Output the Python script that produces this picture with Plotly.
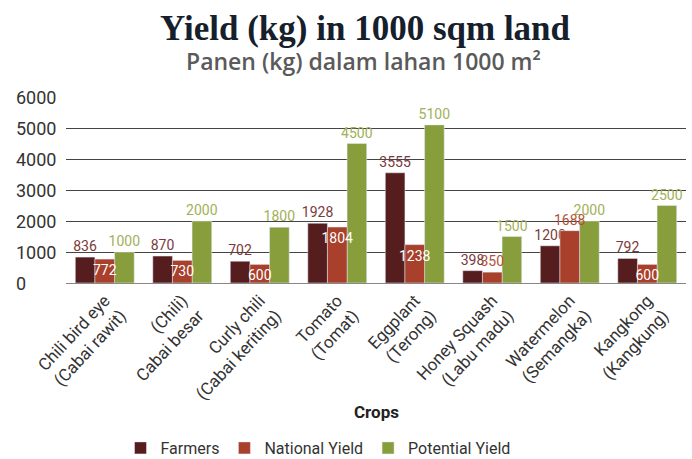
import plotly.graph_objects as go

# datos
crops = [
    "Chili bird eye<br>(Cabai rawit)",
    "(Chili)<br>Cabai besar",
    "Curly chili<br>(Cabai keriting)",
    "Tomato<br>(Tomat)",
    "Eggplant<br>(Terong)",
    "Honey Squash<br>(Labu madu)",
    "Watermelon<br>(Semangka)",
    "Kangkong<br>(Kangkung)",
]
farmers = [836, 870, 702, 1928, 3555, 398, 1200, 792]
national = [772, 730, 600, 1804, 1238, 350, 1688, 600]
potential = [1000, 2000, 1800, 4500, 5100, 1500, 2000, 2500]
national_pos = ["inside", "inside", "inside", "inside", "inside", "outside", "outside", "inside"]
y_ticks = [0, 1000, 2000, 3000, 4000, 5000, 6000]

# ancho de barra y desplazamiento dentro del grupo (unidades de categoria)
BAR_W = 0.76 / 3

# pixeles -> coordenadas paper del area del grafico (top 97, bottom 283)
def py(pix):
    return (283 - pix) / 186

def px(pix):
    return (pix - 66) / 620

fig = go.Figure()

fig.add_trace(go.Bar(
    x=crops, y=farmers, name="Farmers", legendrank=1,
    width=BAR_W, offset=-1.5 * BAR_W,
    marker_color="#561d1e",
    text=farmers, textposition="outside", textangle=0,
    outsidetextfont=dict(color="#7a3a3b", size=14, family="Roboto"),
    constraintext="none", cliponaxis=False,
))
fig.add_trace(go.Bar(
    x=crops, y=potential, name="Potential Yield", legendrank=3,
    width=BAR_W, offset=0.5 * BAR_W,
    marker_color="#889e3c",
    text=potential, textposition="outside", textangle=0,
    outsidetextfont=dict(color="#9fb15a", size=14, family="Roboto"),
    constraintext="none", cliponaxis=False,
))
# la serie nacional se dibuja al final para que sus etiquetas queden encima
fig.add_trace(go.Bar(
    x=crops, y=national, name="National Yield", legendrank=2,
    width=BAR_W, offset=-0.5 * BAR_W,
    marker_color="#a8402b",
    text=national, textposition=national_pos, textangle=0,
    insidetextanchor="end",
    insidetextfont=dict(color="white", size=14, family="Roboto"),
    outsidetextfont=dict(color="#b34f3a", size=14, family="Roboto"),
    constraintext="none", cliponaxis=False,
))

# etiquetas del eje y alineadas a la izquierda
for v in y_ticks:
    fig.add_annotation(
        x=px(14), xref="paper", xanchor="left",
        y=v, yref="y", yanchor="middle",
        text=str(v), showarrow=False,
        font=dict(size=18, color="#333333", family="Roboto"),
    )

# titulo y subtitulo
fig.add_annotation(
    x=px(365), xref="paper", xanchor="center",
    y=py(28), yref="paper", yanchor="middle",
    text="<b>Yield (kg) in 1000 sqm land</b>", showarrow=False,
    font=dict(family="Liberation Serif", size=35, color="#16202c"),
)
fig.add_annotation(
    x=px(363), xref="paper", xanchor="center",
    y=py(61), yref="paper", yanchor="middle",
    text="Panen (kg) dalam lahan 1000 m²", showarrow=False,
    font=dict(family="Open Sans", size=23, color="#5a5a5a", weight=600),
)

fig.add_annotation(
    x=px(376), xref="paper", y=py(412), yref="paper", yanchor="middle",
    text="<b>Crops</b>", showarrow=False,
    font=dict(size=17, color="#222222", family="Roboto"),
)

fig.update_layout(
    width=692, height=459,
    margin=dict(l=66, r=6, t=97, b=176),
    plot_bgcolor="white", paper_bgcolor="white",
    barmode="overlay",
    font=dict(family="Roboto", color="#333333"),
    legend=dict(
        orientation="h", x=318 / 692, xanchor="center", xref="container",
        y=1 - 448 / 459, yanchor="middle", yref="container",
        font=dict(size=16, color="#333333"),
    ),
    showlegend=True,
)
fig.update_xaxes(
    tickangle=-47, tickfont=dict(size=17, color="#333333"),
    showline=True, linecolor="#888888", linewidth=1,
    showgrid=False,
)
fig.update_yaxes(
    range=[0, 6000], tickvals=y_ticks, showticklabels=False,
    showgrid=True, gridcolor="#444444", gridwidth=1,
    zeroline=False,
)

# quitar el margen por defecto del body
fig.write_html("out.html", config={"displayModeBar": False},
               post_script="document.body.style.margin='0';")
